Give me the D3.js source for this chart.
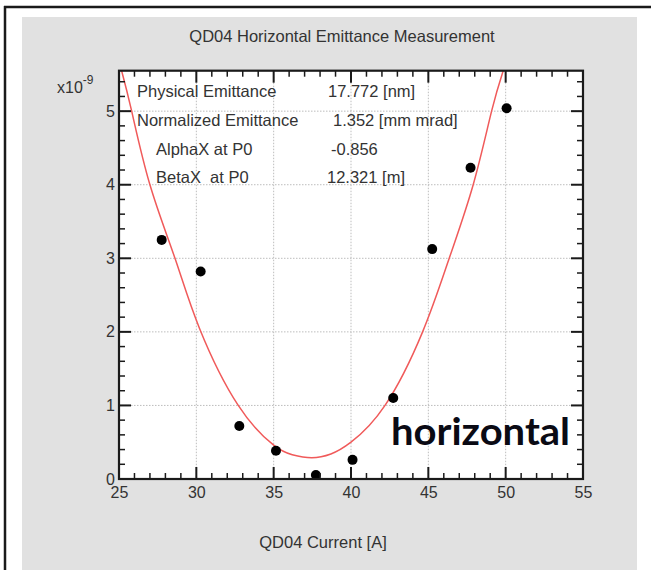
<!DOCTYPE html>
<html><head><meta charset="utf-8">
<script src="https://cdn.jsdelivr.net/npm/d3@7"></script>
<style>
html,body{margin:0;padding:0;background:#fff;}
svg{display:block;}
text{font-family:"Liberation Sans",Arial,sans-serif;white-space:pre;}
</style></head>
<body>
<script>
// ---- data ----
const currentA = [27.76, 30.28, 32.78, 35.15, 37.73, 40.10, 42.73, 45.25, 47.73, 50.06];
const sigma2 = [3.25, 2.82, 0.72, 0.385, 0.054, 0.26, 1.10, 3.125, 4.23, 5.04];
const fitX = [25.17, 25.82, 27.0, 28.62, 30.2, 32.71, 35.0, 36.2, 37.46, 38.7, 40.0, 42.2, 44.63, 46.35, 47.9, 49.09, 49.84];
const fitY = [5.55, 5.0, 4.0, 3.0, 2.05, 1.0, 0.46, 0.33, 0.29, 0.34, 0.50, 1.0, 2.0, 3.0, 4.0, 5.0, 5.55];
const xTicks = [25, 30, 35, 40, 45, 50, 55];
const yTicks = [0, 1, 2, 3, 4, 5];
const infoLabels = ["Physical Emittance", "Normalized Emittance", "AlphaX at P0", "BetaX  at P0"];
const infoValues = ["17.772 [nm]", "1.352 [mm mrad]", "-0.856", "12.321 [m]"];
const titleText = "QD04 Horizontal Emittance Measurement";
const xTitle = "QD04 Current [A]";
const planeText = "horizontal";

const W = 651, H = 570;
const svg = d3.select("body").append("svg").attr("width", W).attr("height", H);

// outer frame and gray panel
svg.append("rect").attr("x",0).attr("y",0).attr("width",W).attr("height",H).attr("fill","#fff");
svg.append("rect").attr("x",22).attr("y",17).attr("width",615).attr("height",H-17).attr("fill","#e1e1e1");
svg.append("line").attr("x1",5).attr("x2",5).attr("y1",6).attr("y2",H).attr("stroke","#1a1a1a").attr("stroke-width",2.5);
svg.append("line").attr("x1",4).attr("x2",W).attr("y1",7).attr("y2",7).attr("stroke","#1a1a1a").attr("stroke-width",2.5);

const L = 119, R = 583, T = 70.7, B = 479;
const x = d3.scaleLinear().domain([25, 55]).range([L, R]);
const y = d3.scaleLinear().domain([0, 5.55]).range([B, T]);

svg.append("rect").attr("x",L).attr("y",T).attr("width",R-L).attr("height",B-T).attr("fill","#fff");

// grid
const g = svg.append("g");
g.selectAll(".gx").data(xTicks.slice(1,-1)).join("line")
  .attr("x1",d=>x(d)).attr("x2",d=>x(d)).attr("y1",T).attr("y2",B)
  .attr("stroke","#bdbdbd").attr("stroke-width",1).attr("stroke-dasharray","1.5,1.5");
g.selectAll(".gy").data(yTicks.slice(1)).join("line")
  .attr("x1",L).attr("x2",R).attr("y1",d=>y(d)).attr("y2",d=>y(d))
  .attr("stroke","#bdbdbd").attr("stroke-width",1).attr("stroke-dasharray","1.5,1.5");

// info text
const info = svg.append("g").attr("fill","#333").style("font-size","16.5px");
const infoLX = [137, 137, 156, 156];
const infoVX = [328, 333, 331, 327];
const infoY = [97, 126, 155, 183];
infoLabels.forEach((t,i)=>{
  info.append("text").attr("x",infoLX[i]).attr("y",infoY[i]).attr("xml:space","preserve").text(t);
  info.append("text").attr("x",infoVX[i]).attr("y",infoY[i]).text(infoValues[i]);
});

// fit curve
const line = d3.line().x(d=>x(d[0])).y(d=>y(d[1])).curve(d3.curveNatural);
svg.append("path").datum(fitX.map((v,i)=>[v,fitY[i]]))
  .attr("d",line).attr("fill","none").attr("stroke","#f05a5a").attr("stroke-width",1.5);

// points
svg.selectAll(".pt").data(currentA.map((v,i)=>[v,sigma2[i]])).join("circle")
  .attr("cx",d=>x(d[0])).attr("cy",d=>y(d[1])).attr("r",5).attr("fill","#000");

// plane label
svg.append("text").attr("x",391).attr("y",445).text(planeText)
  .attr("textLength",179).attr("lengthAdjust","spacingAndGlyphs")
  .style("font-family","Lato, 'Open Sans', sans-serif").style("font-weight","bold").style("font-size","38px")
  .attr("fill","#0a0a14");

// ticks
const tk = svg.append("g").attr("stroke","#1a1a1a");
const xMinor = d3.range(25, 55.01, 1);
const yMinor = d3.range(0, 5.55, 0.2);
xMinor.forEach(v=>{
  const major = Math.abs(v/5 - Math.round(v/5))<1e-6;
  const len = major?12:6;
  tk.append("line").attr("x1",x(v)).attr("x2",x(v)).attr("y1",B).attr("y2",B-len).attr("stroke-width",major?2:1.5);
  tk.append("line").attr("x1",x(v)).attr("x2",x(v)).attr("y1",T).attr("y2",T+len).attr("stroke-width",major?2:1.5);
});
yMinor.forEach(v=>{
  const major = Math.abs(v - Math.round(v))<1e-6;
  const len = major?12:6;
  tk.append("line").attr("x1",L).attr("x2",L+len).attr("y1",y(v)).attr("y2",y(v)).attr("stroke-width",major?2:1.5);
  tk.append("line").attr("x1",R).attr("x2",R-len).attr("y1",y(v)).attr("y2",y(v)).attr("stroke-width",major?2:1.5);
});
svg.append("rect").attr("x",L).attr("y",T).attr("width",R-L).attr("height",B-T)
  .attr("fill","none").attr("stroke","#1a1a1a").attr("stroke-width",2.2);

// tick labels via axes
const xAxis = svg.append("g").attr("transform",`translate(0,${B})`)
  .call(d3.axisBottom(x).tickValues(xTicks).tickSize(0).tickPadding(8).tickFormat(d3.format("d")));
xAxis.select(".domain").remove();
xAxis.selectAll("text").attr("fill","#333").style("font-size","16px").attr("dy","0.71em");
const yAxis = svg.append("g").attr("transform",`translate(${L},0)`)
  .call(d3.axisLeft(y).tickValues(yTicks).tickSize(0).tickPadding(4).tickFormat(d3.format("d")));
yAxis.select(".domain").remove();
yAxis.selectAll("text").attr("fill","#333").style("font-size","16px");
xAxis.attr("font-family",null); yAxis.attr("font-family",null);

// exponent
const ex = svg.append("text").attr("x",57).attr("y",93).attr("fill","#333").style("font-size","16px");
ex.append("tspan").text("x10");
ex.append("tspan").attr("dy",-9).style("font-size","12px").text("-9");

// titles
svg.append("text").attr("x",342).attr("y",42).attr("text-anchor","middle").attr("fill","#333")
  .style("font-size","16.5px").text(titleText);
svg.append("text").attr("x",323).attr("y",548).attr("text-anchor","middle").attr("fill","#333")
  .style("font-size","16.5px").text(xTitle);
</script>
</body></html>
